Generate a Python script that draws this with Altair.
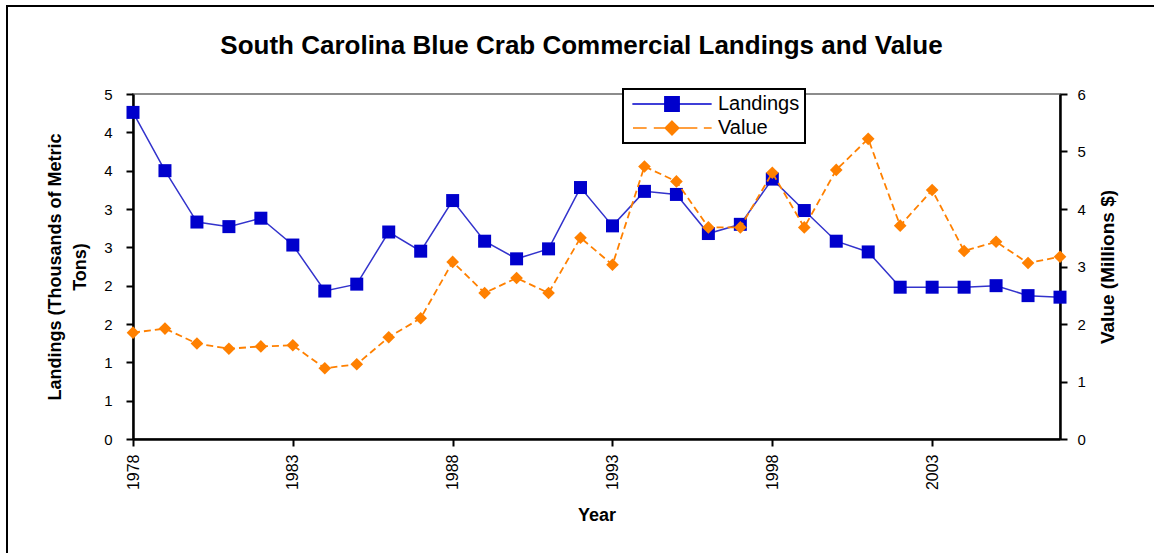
import altair as alt
import pandas as pd

# ---- data -----------------------------------------------------------------
years = list(range(1978, 2008))
# commercial landings, thousands of metric tons
landings = [4.26, 3.50, 2.83, 2.77, 2.88, 2.53, 1.93, 2.02, 2.70, 2.45,
            3.11, 2.58, 2.35, 2.48, 3.28, 2.78, 3.23, 3.19, 2.68, 2.80,
            3.39, 2.98, 2.58, 2.44, 1.98, 1.98, 1.98, 2.00, 1.87, 1.85]
# ex-vessel value, millions of dollars
value = [1.85, 1.92, 1.66, 1.57, 1.61, 1.63, 1.23, 1.30, 1.77, 2.10,
         3.08, 2.54, 2.80, 2.54, 3.50, 3.03, 4.74, 4.48, 3.68, 3.68,
         4.63, 3.68, 4.68, 5.22, 3.71, 4.33, 3.27, 3.43, 3.06, 3.17]

series_names = ["Landings", "Value"]
year_ticks = [1978, 1983, 1988, 1993, 1998, 2003]
landing_ticks = [0, 0.5, 1, 1.5, 2, 2.5, 3, 3.5, 4, 4.5]
value_ticks = [0, 1, 2, 3, 4, 5, 6]

# ---- styling --------------------------------------------------------------
FONT = "Liberation Sans"
BLUE = "#0000CC"
BLUE_LINE = "#3333CC"
ORANGE = "#FF8000"
W, H = 927, 345

# legend glyphs: a line with a marker in the middle (custom symbol paths)
landings_glyph = "M-6.1,0H6.1M-1.1,-1.1H1.1V1.1H-1.1Z"
value_glyph = ("M-6,0H-3.9M-2.8,0H3.9M4.9,0H6.1"
               "M0,-1.05L1.05,0L0,1.05L-1.05,0Z")

df = pd.DataFrame({"Year": years, "Landings": landings, "Value": value})

x_enc = alt.X(
    "Year:Q",
    scale=alt.Scale(domain=[years[0], years[-1]], nice=False, zero=False),
    axis=alt.Axis(values=year_ticks, format="d", labelAngle=270,
                  labelFontSize=16, labelPadding=8, title="Year",
                  titlePadding=17, titleFontSize=18),
)

# ---- landings (left axis) -------------------------------------------------
land_y = alt.Y(
    "Landings:Q",
    scale=alt.Scale(domain=[0, 4.5], nice=False),
    axis=alt.Axis(orient="left", values=landing_ticks, format=".0f",
                  labelPadding=14, titlePadding=14, titleLineHeight=25,
                  titleFontSize=18,
                  title=["Landings (Thousands of Metric", "Tons)"]),
)
land_line = alt.Chart(df).mark_line(color=BLUE_LINE, strokeWidth=1.5).encode(
    x=x_enc, y=land_y)
land_pts = alt.Chart(df).mark_square(size=169, color=BLUE, opacity=1).encode(
    x=x_enc, y=land_y)
land_layer = alt.layer(land_line, land_pts)

# ---- value (right axis) ---------------------------------------------------
val_y = alt.Y(
    "Value:Q",
    scale=alt.Scale(domain=[0, 6], nice=False),
    axis=alt.Axis(orient="right", values=value_ticks, format="d",
                  labelPadding=10, titlePadding=13, titleAngle=270,
                  titleBaseline="top", titleFontSize=19,
                  title="Value (Millions $)"),
)
val_line = alt.Chart(df).mark_line(color=ORANGE, strokeWidth=1.8,
                                   strokeDash=[7, 4]).encode(x=x_enc, y=val_y)
val_pts = alt.Chart(df).mark_point(shape="diamond", filled=True, size=160,
                                   color=ORANGE, opacity=1).encode(x=x_enc, y=val_y)
val_layer = alt.layer(val_line, val_pts)

# ---- legend (no marks drawn, only the scales) -----------------------------
leg = alt.Legend(title=None, orient="none", legendX=490, legendY=-5,
                 symbolSize=169, symbolStrokeWidth=1.5, symbolOpacity=1,
                 symbolOffset=34, labelOffset=36, labelFontSize=20,
                 labelFont=FONT, labelColor="black", rowPadding=3,
                 padding=5, strokeColor="black", fillColor="white")
legend_src = pd.DataFrame({"Series": series_names})
legend_layer = alt.Chart(legend_src).transform_filter("false").mark_point(
    filled=True).encode(
    fill=alt.Fill("Series:N", scale=alt.Scale(domain=series_names,
                                              range=[BLUE, ORANGE]), legend=leg),
    stroke=alt.Stroke("Series:N", scale=alt.Scale(domain=series_names,
                                                  range=[BLUE, ORANGE]), legend=leg),
    shape=alt.Shape("Series:N", scale=alt.Scale(domain=series_names,
                                                range=[landings_glyph, value_glyph]),
                    legend=leg),
)

# ---- outer frame ----------------------------------------------------------
frame = alt.Chart(pd.DataFrame({"k": [0]})).mark_rect(
    fillOpacity=0, stroke="black", strokeWidth=2).encode(
    x=alt.value(-126), x2=alt.value(1100), y=alt.value(-88), y2=alt.value(600))

chart = (
    alt.layer(frame, land_layer, val_layer, legend_layer)
    .resolve_scale(y="independent")
    .properties(
        width=W, height=H,
        title=alt.TitleParams(
            "South Carolina Blue Crab Commercial Landings and Value",
            font=FONT, fontSize=26, fontWeight="bold", color="black",
            anchor="middle", offset=0, dx=-15, dy=54),
        padding={"left": 133, "top": 94, "right": 94, "bottom": 114},
        autosize=alt.AutoSizeParams(type="none"),
    )
    .configure_view(stroke="#8c8c8c", strokeWidth=2)
    .configure_axis(
        domainColor="black", domainWidth=2.5, tickColor="black", tickWidth=2,
        tickSize=7, grid=False, labelFont=FONT, labelFontSize=15,
        labelColor="black", titleFont=FONT, titleFontSize=17,
        titleFontWeight="bold", titleColor="black",
    )
    .configure_legend(strokeWidth=2)
)

chart.save("out.html", embed_options={"renderer": "svg", "actions": False})
